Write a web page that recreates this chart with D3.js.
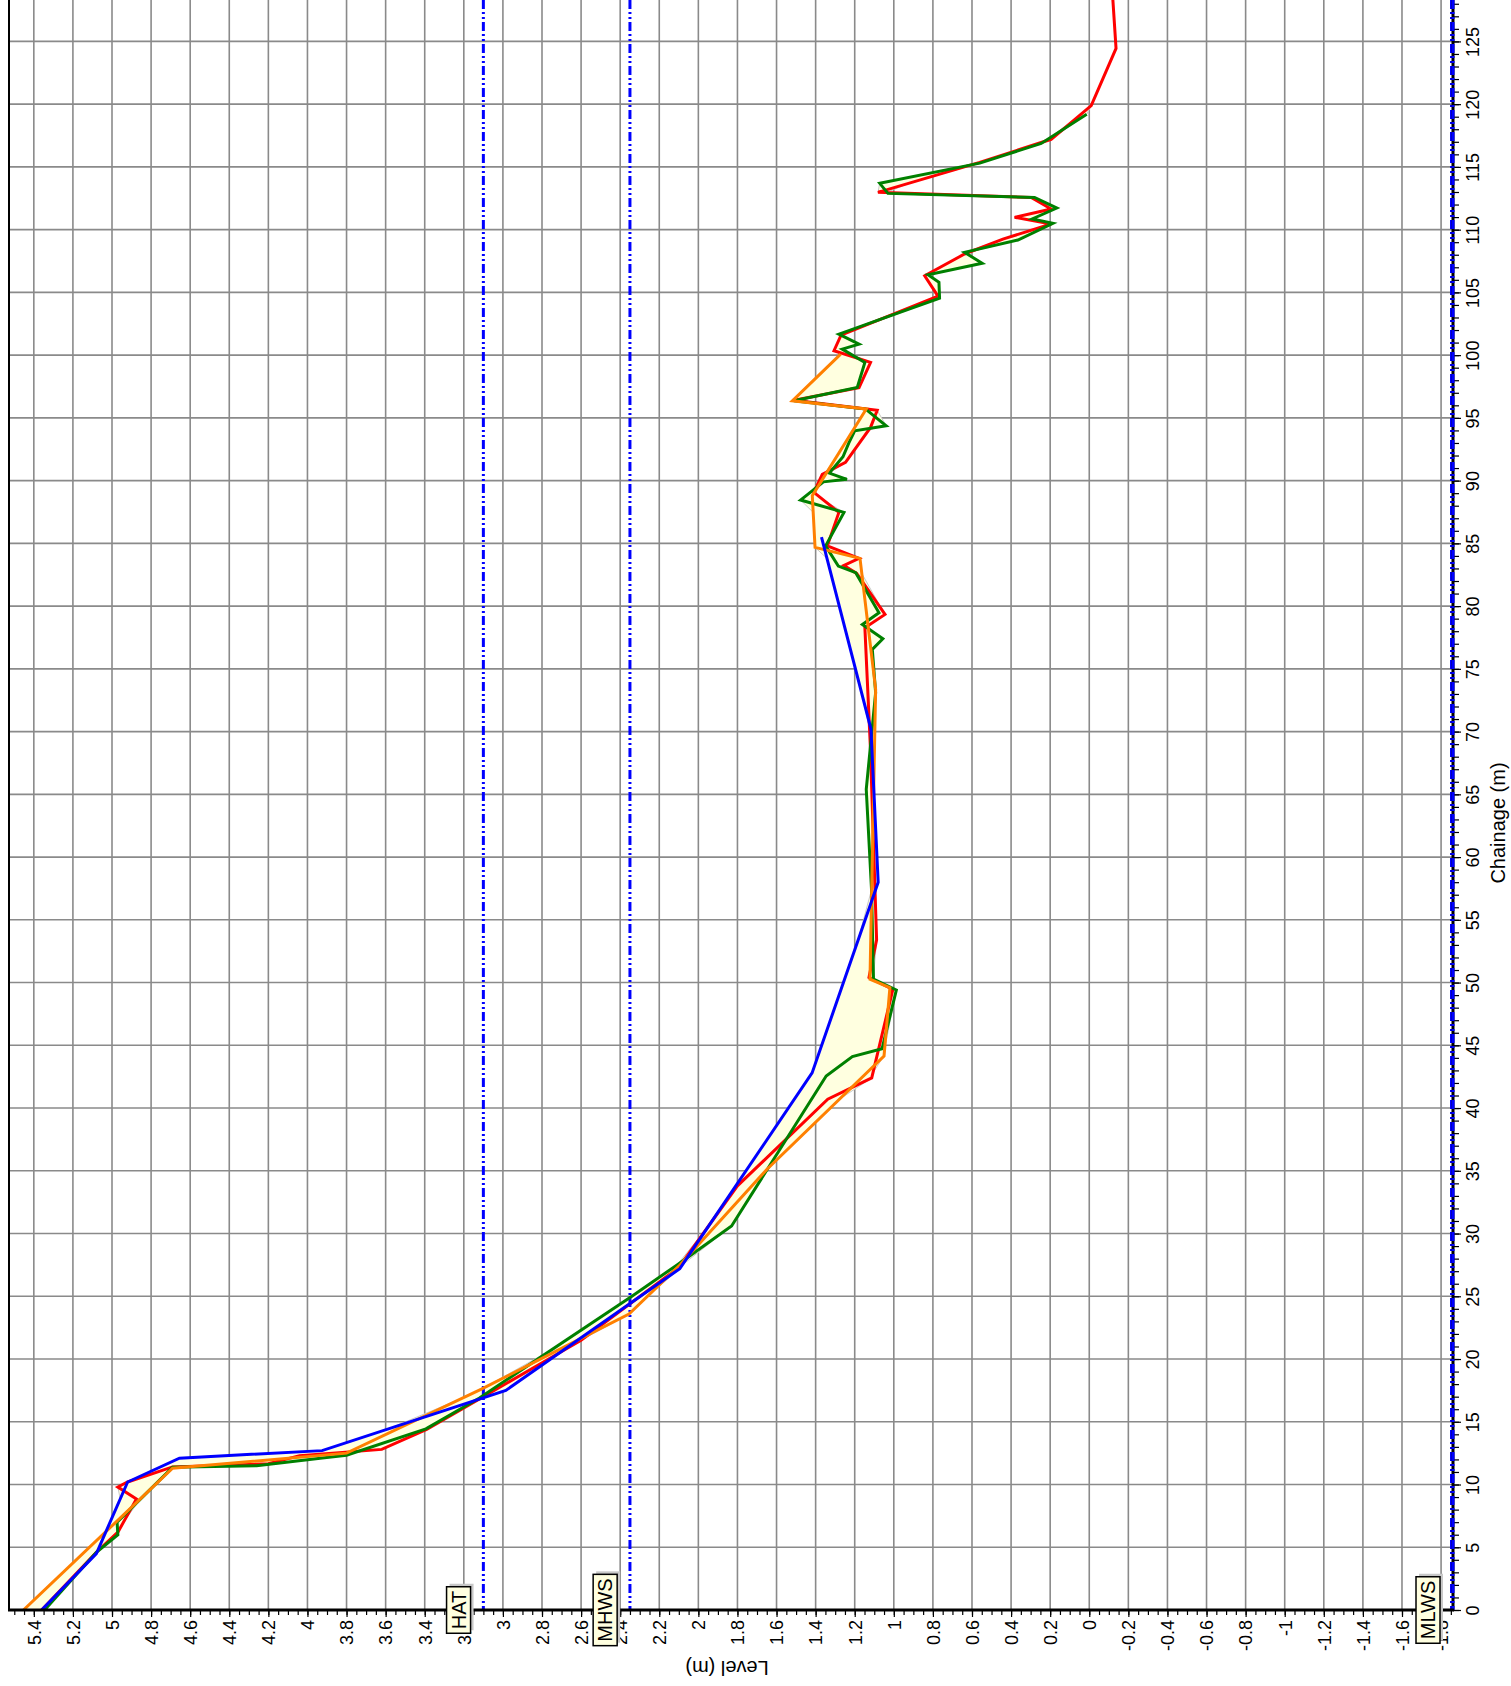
<!DOCTYPE html>
<html>
<head>
<meta charset="utf-8">
<script src="https://cdn.jsdelivr.net/npm/d3@7"></script>
<style>
  body { margin: 0; background: #fff; }
  svg { display: block; }
  text { font-family: "Liberation Sans", Arial, sans-serif; }
</style>
</head>
<body>
<div id="profile_chart"></div>
<script>
// plot box (the chart is drawn turned on its side: chainage runs up, level runs left)
const plot = {left: 9, right: 1453, top: 0, bottom: 1610};
const width = 1511, height = 1686;

const levelTicks = [5.4, 5.2, 5, 4.8, 4.6, 4.4, 4.2, 4, 3.8, 3.6, 3.4, 3.2, 3, 2.8, 2.6, 2.4, 2.2, 2,
  1.8, 1.6, 1.4, 1.2, 1, 0.8, 0.6, 0.4, 0.2, 0, -0.2, -0.4, -0.6, -0.8, -1, -1.2, -1.4, -1.6, -1.8];
const chainageTicks = [0, 5, 10, 15, 20, 25, 30, 35, 40, 45, 50, 55, 60, 65, 70, 75, 80, 85, 90, 95,
  100, 105, 110, 115, 120, 125];

const tideNames = ["HAT", "MHWS", "MLWS"];
const tideLevels = [3.1, 2.35, -1.86];

// [chainage, level]
const profileRed = [[0, 5.36], [4.6, 5.08], [6.2, 4.97], [8.85, 4.875], [9.8, 4.97], [10.2, 4.92], [11.4, 4.69],
  [11.65, 4.2], [12.3, 4.04], [12.8, 3.62], [14.4, 3.39], [17.0, 3.1], [21.5, 2.6], [27.3, 2.1], [33.8, 1.8],
  [40.7, 1.338], [42.4, 1.113], [49.45, 1.005], [50.4, 1.127], [53.4, 1.088], [68.8, 1.12], [78.27, 1.148],
  [79.34, 1.045], [82.6, 1.19], [83.24, 1.255], [83.8, 1.178], [84.8, 1.34], [87.47, 1.281], [89.06, 1.409],
  [90.5, 1.366], [91.45, 1.247], [94.24, 1.119], [95.6, 1.085], [96.4, 1.51], [97.4, 1.178], [99.42, 1.119],
  [100.35, 1.306], [101.6, 1.27], [104.7, 0.774], [106.33, 0.842], [108.06, 0.638], [109.25, 0.442],
  [110.45, 0.195], [110.98, 0.382], [111.64, 0.195], [112.57, 0.297], [112.97, 1.081], [115.36, 0.561],
  [117.2, 0.195], [119.88, -0.01], [124.44, -0.137], [128.5, -0.12]];

const profileGreen = [[0, 5.345], [4.6, 5.08], [6.0, 4.97], [7.0, 4.974], [11.37, 4.69], [11.5, 4.26],
  [12.12, 3.924], [12.33, 3.8], [14.43, 3.394], [16.9, 3.12], [25.0, 2.34], [27.5, 2.109], [30.6, 1.83],
  [42.55, 1.346], [44.1, 1.212], [44.73, 1.06], [49.41, 0.987], [50.27, 1.104], [57.4, 1.114], [65.4, 1.141],
  [73.1, 1.093], [76.55, 1.11], [77.4, 1.056], [78.54, 1.161], [79.47, 1.076], [82.66, 1.195], [83.19, 1.284],
  [84.8, 1.349], [87.47, 1.255], [88.45, 1.477], [89.9, 1.36], [90.1, 1.24], [90.6, 1.33], [91.9, 1.26],
  [93.0, 1.23], [93.97, 1.2], [94.37, 1.039], [95.7, 1.144], [96.36, 1.511], [97.42, 1.187], [99.42, 1.148],
  [100.48, 1.264], [100.88, 1.178], [101.67, 1.281], [104.53, 0.766], [105.8, 0.769], [106.41, 0.825],
  [107.32, 0.548], [108.19, 0.638], [109.17, 0.365], [110.5, 0.186], [110.85, 0.292], [111.72, 0.166],
  [112.57, 0.28], [112.89, 1.03], [113.69, 1.072], [115.3, 0.56], [116.87, 0.246], [119.2, 0.013]];

const profileOrange = [[0, 5.453], [11.3, 4.69], [12.5, 3.8], [17.6, 3.11], [20.75, 2.713], [23.58, 2.355],
  [27.4, 2.1], [35.1, 1.65], [44.15, 1.05], [49.6, 1.02], [50.27, 1.122], [73.36, 1.093], [78.97, 1.136],
  [83.8, 1.173], [84.68, 1.403], [88.8, 1.417], [95.7, 1.141], [96.36, 1.519], [100.08, 1.272]];

const profileBlue = [[0, 5.36], [4.5, 5.08], [10.2, 4.92], [12.1, 4.655], [12.7, 3.925], [17.5, 2.985],
  [27.2, 2.095], [42.8, 1.418], [58.0, 1.08], [70.2, 1.117], [85.5, 1.37]];

const profiles = [
  {data: profileRed, color: "#ff0000"},
  {data: profileGreen, color: "#008000"},
  {data: profileOrange, color: "#ff8000"},
  {data: profileBlue, color: "#0000ff"}
];

const svg = d3.select("#profile_chart")
  .append("svg")
  .attr("width", width)
  .attr("height", height);

const x = d3.scaleLinear()
  .domain([5.527, -1.861])
  .range([plot.left, plot.right]);

const y = d3.scaleLinear()
  .domain([0, 128.3])
  .range([plot.bottom, plot.top]);

svg.append("clipPath").attr("id", "plotclip")
  .append("rect")
  .attr("x", plot.left).attr("y", plot.top)
  .attr("width", plot.right - plot.left).attr("height", plot.bottom - plot.top);

// grid
svg.append("g")
  .selectAll("line")
  .data(levelTicks)
  .join("line")
  .attr("x1", d => x(d)).attr("x2", d => x(d))
  .attr("y1", plot.top).attr("y2", plot.bottom)
  .attr("stroke", "#8a8a8a")
  .attr("stroke-width", 1.6);

svg.append("g")
  .selectAll("line")
  .data(chainageTicks.slice(1))
  .join("line")
  .attr("x1", plot.left).attr("x2", plot.right)
  .attr("y1", d => y(d)).attr("y2", d => y(d))
  .attr("stroke", "#8a8a8a")
  .attr("stroke-width", 1.6);

// envelope between the highest and lowest profile at each chainage
function levelAt(s, ch) {
  if (ch < s[0][0] || ch > s[s.length - 1][0]) return null;
  for (let i = 0; i < s.length - 1; i++) {
    if (ch >= s[i][0] && ch <= s[i + 1][0]) {
      const t = (ch - s[i][0]) / (s[i + 1][0] - s[i][0]);
      return s[i][1] + t * (s[i + 1][1] - s[i][1]);
    }
  }
  return s[s.length - 1][1];
}

const allChainages = Array.from(new Set(profiles.flatMap(p => p.data.map(d => d[0])))).sort((a, b) => a - b);
const envelope = allChainages.map(ch => {
  const vals = profiles.map(p => levelAt(p.data, ch)).filter(v => v !== null);
  return {ch: ch, hi: d3.max(vals), lo: d3.min(vals)};
});

const chart = svg.append("g").attr("clip-path", "url(#plotclip)");

chart.append("path")
  .datum(envelope)
  .attr("fill", "#ffffe0")
  .attr("stroke", "#c8c8c8")
  .attr("stroke-width", 1)
  .attr("d", d3.area()
    .y(d => y(d.ch))
    .x0(d => x(d.hi))
    .x1(d => x(d.lo)));

// tide levels
chart.selectAll(".tide")
  .data(tideLevels)
  .join("line")
  .attr("class", "tide")
  .attr("x1", d => Math.min(x(d), plot.right - 1.5)).attr("x2", d => Math.min(x(d), plot.right - 1.5))
  .attr("y1", plot.top).attr("y2", plot.bottom)
  .attr("stroke", "#0000ff")
  .attr("stroke-width", 3)
  .attr("stroke-dasharray", "9,3,2,3,2,3");

// profiles
chart.selectAll(".profile")
  .data(profiles)
  .join("path")
  .attr("class", "profile")
  .attr("fill", "none")
  .attr("stroke", d => d.color)
  .attr("stroke-width", 3)
  .attr("stroke-linejoin", "miter")
  .attr("d", d => d3.line()
    .x(p => x(p[1]))
    .y(p => y(p[0]))(d.data));

// level axis (bottom)
const fmt = d => String(+d.toFixed(2));

svg.append("g")
  .attr("transform", `translate(0,${plot.bottom})`)
  .call(d3.axisBottom(x).tickValues(d3.range(-37, 111).map(i => i * 0.05)).tickSize(5).tickFormat(""))
  .call(g => g.select(".domain").remove())
  .selectAll("line").attr("stroke", "#000").attr("stroke-width", 1.2);

const levelAxis = svg.append("g")
  .attr("transform", `translate(0,${plot.bottom})`)
  .call(d3.axisBottom(x).tickValues(levelTicks).tickSize(7).tickFormat(fmt));
levelAxis.select(".domain").remove();
levelAxis.selectAll("line").attr("stroke", "#000").attr("stroke-width", 1.2);
levelAxis.selectAll("text")
  .attr("y", null).attr("dy", null)
  .attr("transform", "translate(0,10) rotate(-90)")
  .attr("dy", "0.35em")
  .attr("text-anchor", "end")
  .style("font-size", "18px")
  .attr("fill", "#000");

// chainage axis (right)
svg.append("g")
  .attr("transform", `translate(${plot.right},0)`)
  .call(d3.axisRight(y).tickValues(d3.range(0, 129)).tickSize(6).tickFormat(""))
  .call(g => g.select(".domain").remove())
  .selectAll("line").attr("stroke", "#000").attr("stroke-width", 1.2);

const chAxis = svg.append("g")
  .attr("transform", `translate(${plot.right},0)`)
  .call(d3.axisRight(y).tickValues(chainageTicks).tickSize(8).tickFormat(d => d));
chAxis.select(".domain").remove();
chAxis.selectAll("line").attr("stroke", "#000").attr("stroke-width", 1.2);
chAxis.selectAll("text")
  .attr("x", null).attr("dy", null)
  .attr("transform", "translate(20,0) rotate(-90)")
  .attr("dy", "0.35em")
  .attr("text-anchor", "middle")
  .style("font-size", "18px")
  .attr("fill", "#000");

// frame lines
svg.append("line")
  .attr("x1", plot.left).attr("x2", plot.left)
  .attr("y1", plot.top).attr("y2", plot.bottom)
  .attr("stroke", "#000").attr("stroke-width", 2);
svg.append("line")
  .attr("x1", plot.right).attr("x2", plot.right)
  .attr("y1", plot.top).attr("y2", plot.bottom)
  .attr("stroke", "#000").attr("stroke-width", 3);
svg.append("line")
  .attr("x1", plot.right).attr("x2", plot.right)
  .attr("y1", plot.top).attr("y2", plot.bottom)
  .attr("stroke", "#0000ff").attr("stroke-width", 3)
  .attr("stroke-dasharray", "9,3,2,3,2,3");
svg.append("line")
  .attr("x1", plot.left - 1).attr("x2", plot.right + 1)
  .attr("y1", plot.bottom).attr("y2", plot.bottom)
  .attr("stroke", "#000").attr("stroke-width", 3);

// tide labels
const tideTags = svg.append("g")
  .selectAll("g")
  .data(tideNames)
  .join("g")
  .attr("transform", (d, i) => `translate(${Math.min(x(tideLevels[i]), plot.right) - 25},${plot.bottom}) rotate(-90)`);

tideTags.append("text")
  .attr("class", "tag")
  .attr("x", 0).attr("y", 0)
  .attr("dy", "0.36em")
  .attr("text-anchor", "middle")
  .style("font-size", "20px")
  .text(d => d);

tideTags.each(function () {
  const g = d3.select(this);
  const bb = g.select("text").node().getBBox();
  g.insert("rect", "text")
    .attr("x", bb.x - 4 + 3).attr("y", bb.y - 1 + 3)
    .attr("width", bb.width + 8).attr("height", bb.height + 2)
    .attr("fill", "#c8c8c8");
  g.insert("rect", "text")
    .attr("x", bb.x - 4).attr("y", bb.y - 1)
    .attr("width", bb.width + 8).attr("height", bb.height + 2)
    .attr("fill", "#ffffe0")
    .attr("stroke", "#000")
    .attr("stroke-width", 1.5);
});

// axis titles
svg.append("text")
  .attr("transform", `translate(727,1668) rotate(180)`)
  .attr("text-anchor", "middle")
  .attr("dy", "0.35em")
  .style("font-size", "20px")
  .text("Level (m)");

svg.append("text")
  .attr("transform", `translate(1498,823) rotate(-90)`)
  .attr("text-anchor", "middle")
  .attr("dy", "0.35em")
  .style("font-size", "20px")
  .text("Chainage (m)");
</script>
</body>
</html>
